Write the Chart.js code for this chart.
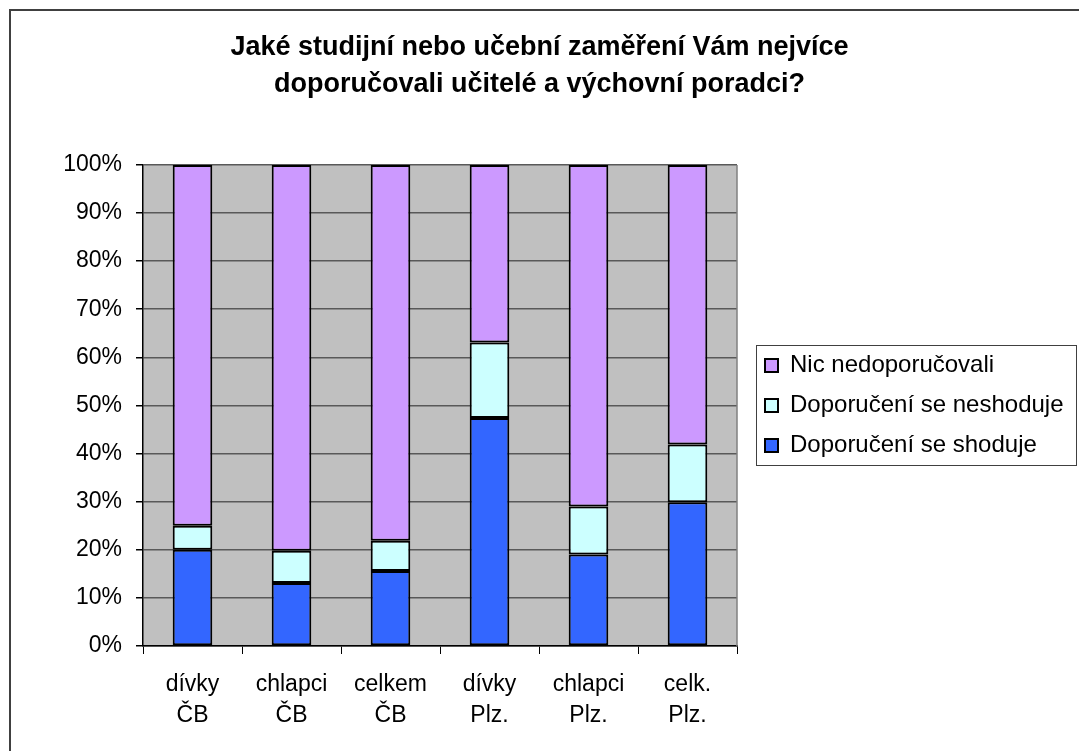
<!DOCTYPE html>
<html>
<head>
<meta charset="utf-8">
<script src="https://cdn.jsdelivr.net/npm/chart.js@4"></script>
<style>
  html, body { margin: 0; padding: 0; background: #fff; }
  canvas { display: block; }
</style>
</head>
<body>
<canvas id="chart" width="1079" height="751"></canvas>
<script>
// Data (percent of respondents)
const categories = [['dívky', 'ČB'], ['chlapci', 'ČB'], ['celkem', 'ČB'], ['dívky', 'Plz.'], ['chlapci', 'Plz.'], ['celk.', 'Plz.']];
const seriesNames = ['Doporučení se shoduje', 'Doporučení se neshoduje', 'Nic nedoporučovali'];
const shoduje = [20, 13.1, 15.6, 47.4, 19, 29.9];
const neshoduje = [5, 6.7, 6.3, 15.7, 10, 12];
const nic = [75, 80.2, 78.1, 36.9, 71, 58.1];
const titleLines = ['Jaké studijní nebo učební zaměření Vám nejvíce', 'doporučovali učitelé a výchovní poradci?'];

const FONT = "'Liberation Sans', Arial, sans-serif";
const LEGEND_SIZE = 24;
const LEGEND_PAD = 16;
const BOX = 13;

const ctx = document.getElementById('chart').getContext('2d');

// work out the legend width so the plot ends at the same place as the original
ctx.font = LEGEND_SIZE + 'px ' + FONT;
const textW = Math.max(...seriesNames.map(s => ctx.measureText(s).width));
const legendW = LEGEND_PAD + BOX + LEGEND_SIZE / 2 + textW + 10;
const sidePad = Math.max(0, 342 - legendW);

// Gray plot background, plot frame, outer frame and legend box
const frames = {
    id: 'frames',
    beforeDraw(chart) {
        const { ctx, chartArea: a } = chart;
        ctx.save();
        ctx.fillStyle = '#c0c0c0';
        ctx.fillRect(a.left, a.top, a.right - a.left, a.bottom - a.top);
        ctx.restore();
    },
    afterLayout(chart) {
        // small gap between plot and legend, like the original
        chart.legend.left += 12;
        chart.legend.right += 12;
    },
    afterDraw(chart) {
        const { ctx, chartArea: a } = chart;
        ctx.save();
        ctx.strokeStyle = '#808080';
        ctx.lineWidth = 1.5;
        ctx.beginPath();
        ctx.moveTo(a.right, a.top);
        ctx.lineTo(a.right, a.bottom);
        ctx.stroke();

        // outer frame
        ctx.strokeStyle = '#404040';
        ctx.lineWidth = 2;
        ctx.beginPath();
        ctx.moveTo(10, chart.height);
        ctx.lineTo(10, 10);
        ctx.lineTo(chart.width, 10);
        ctx.stroke();

        // legend border
        const hb = chart.legend.legendHitBoxes;
        if (hb && hb.length) {
            const left = hb[0].left - 9;
            const top = hb[0].top + hb[0].height / 2 - 20;
            const last = hb[hb.length - 1];
            const bottom = last.top + last.height / 2 + 20;
            ctx.strokeStyle = '#404040';
            ctx.lineWidth = 1;
            ctx.strokeRect(Math.round(left) + 0.5, Math.round(top) + 0.5, chart.width - 3 - Math.round(left), Math.round(bottom - top));
        }
        ctx.restore();
    }
};

new Chart(ctx, {
    type: 'bar',
    data: {
        labels: categories,
        datasets: [
            { label: seriesNames[0], data: shoduje, backgroundColor: '#3366ff' },
            { label: seriesNames[1], data: neshoduje, backgroundColor: '#ccffff' },
            { label: seriesNames[2], data: nic, backgroundColor: '#cc99ff' }
        ].map(ds => Object.assign(ds, {
            borderColor: '#000',
            borderWidth: 2,
            borderSkipped: false,
            categoryPercentage: 1,
            barPercentage: 0.4
        }))
    },
    options: {
        responsive: false,
        animation: false,
        layout: { padding: { left: sidePad, right: sidePad, top: 0, bottom: 5 } },
        plugins: {
            title: {
                display: true,
                text: titleLines,
                color: '#000',
                font: { family: FONT, size: 27, weight: 'bold', lineHeight: 36.7 / 27 },
                padding: { top: 29.5, bottom: 62 }
            },
            legend: {
                position: 'right',
                fullSize: false,
                reverse: true,
                maxWidth: 1000,
                labels: {
                    color: '#000',
                    font: { family: FONT, size: LEGEND_SIZE },
                    boxWidth: BOX,
                    boxHeight: BOX,
                    padding: LEGEND_PAD
                }
            },
            tooltip: { enabled: false }
        },
        scales: {
            x: {
                stacked: true,
                grid: { drawOnChartArea: false, drawTicks: true, tickLength: 8, tickColor: '#000' },
                border: { color: '#000', width: 1.5 },
                ticks: {
                    color: '#000',
                    font: { family: FONT, size: 23, lineHeight: 31 / 23 },
                    padding: 15,
                    maxRotation: 0,
                    autoSkip: false
                }
            },
            y: {
                stacked: true,
                min: 0,
                max: 100,
                afterFit: s => { s.width = 143 - sidePad; },
                grid: { color: '#595959', lineWidth: 1.5, tickLength: 7, tickColor: '#000' },
                border: { color: '#000', width: 1.5 },
                ticks: {
                    stepSize: 10,
                    color: '#000',
                    font: { family: FONT, size: 23 },
                    padding: 14,
                    callback: v => v + '%'
                }
            }
        }
    },
    plugins: [frames]
});
</script>
</body>
</html>
